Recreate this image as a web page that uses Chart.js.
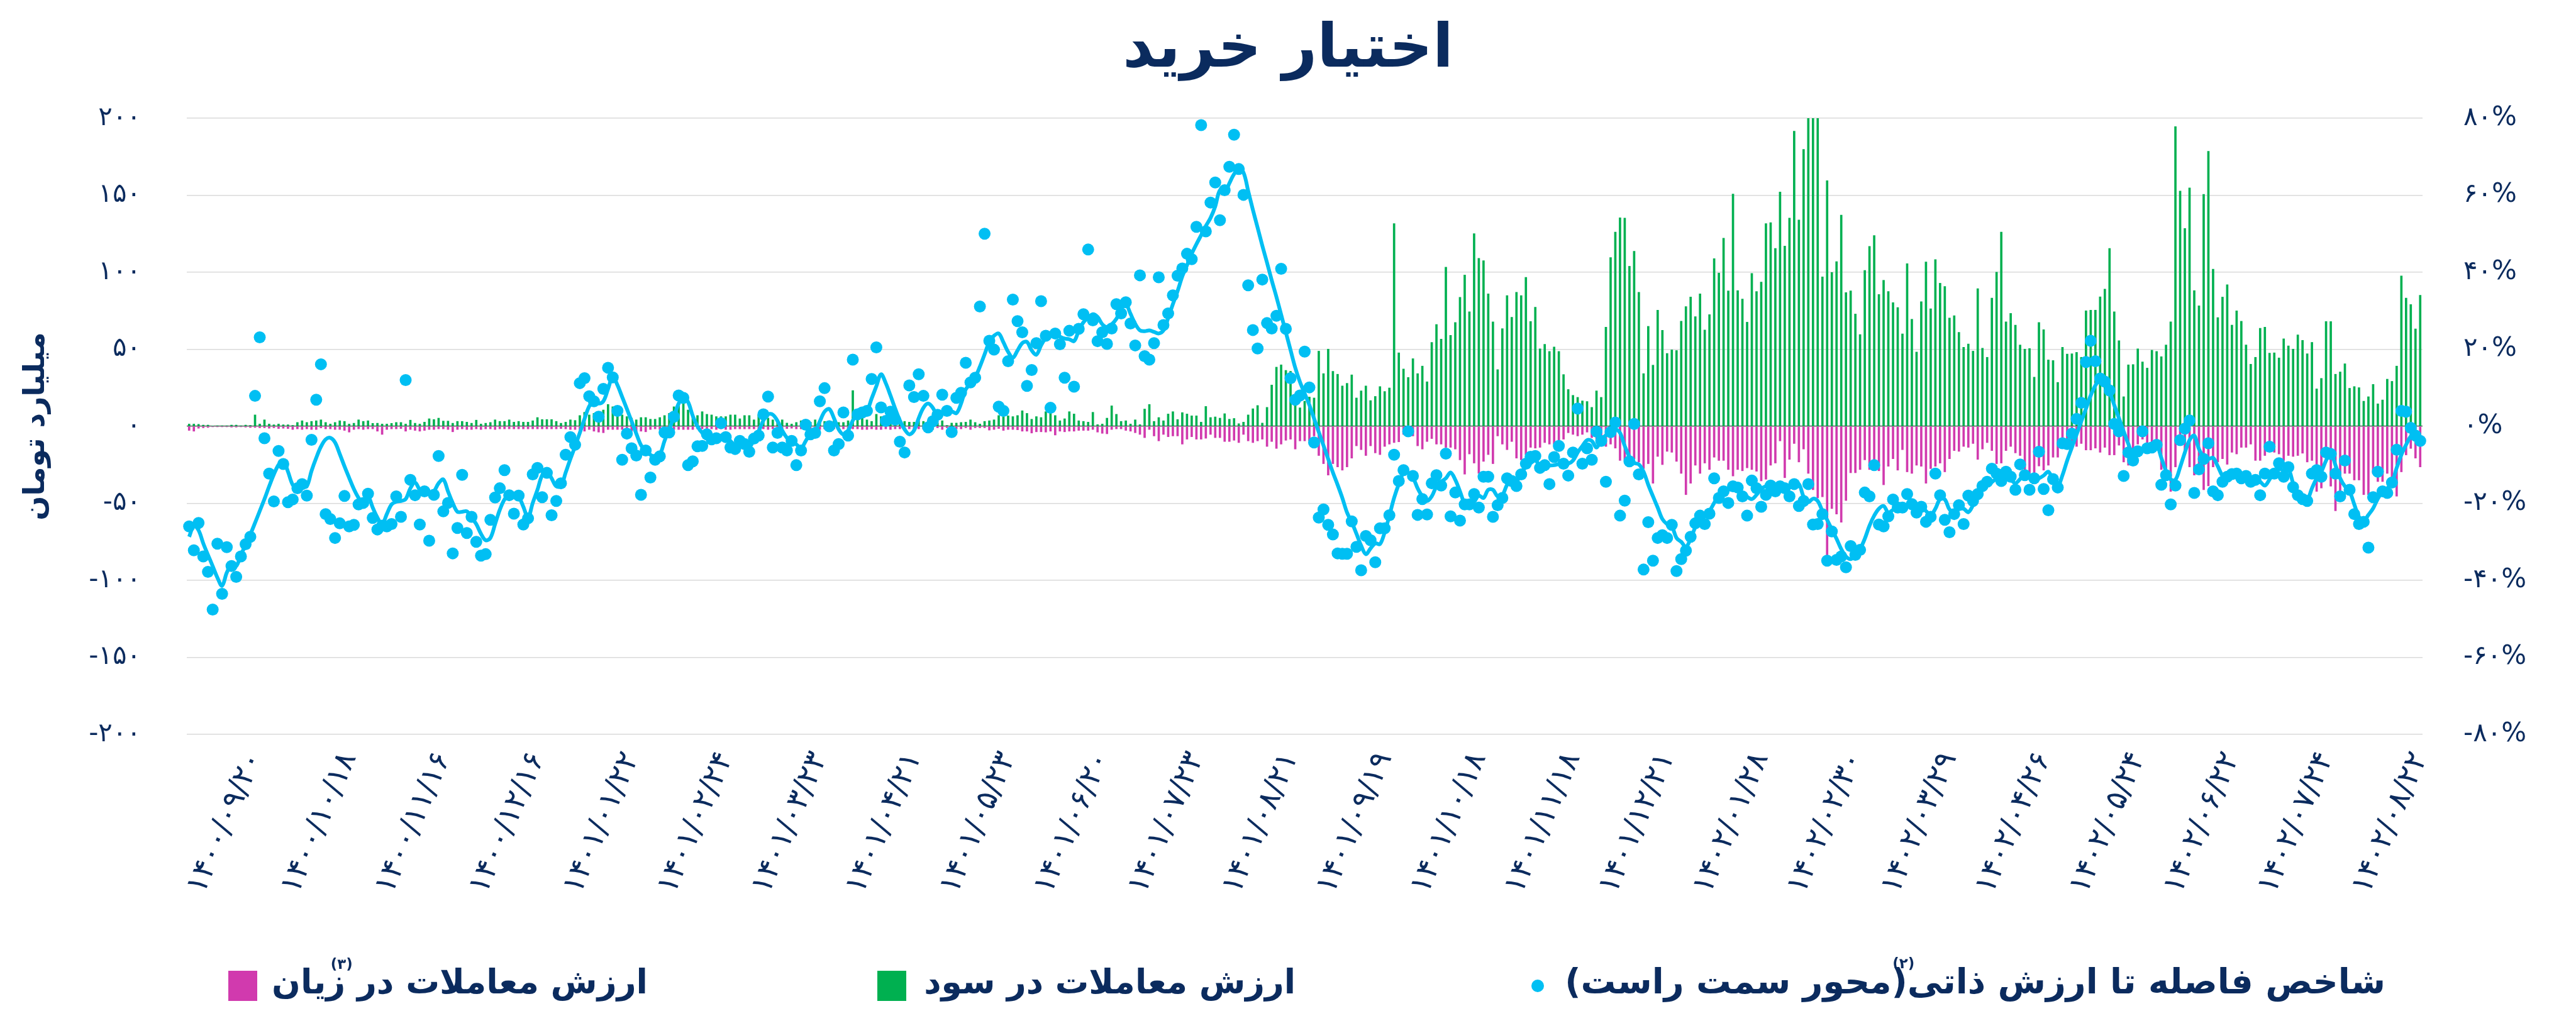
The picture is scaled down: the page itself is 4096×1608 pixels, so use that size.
<!DOCTYPE html>
<html lang="fa">
<head>
<meta charset="utf-8">
<title>اختیار خرید</title>
<script src="https://cdn.jsdelivr.net/npm/chart.js@4.4.0/dist/chart.umd.min.js"></script>
<style>
  html, body { margin: 0; padding: 0; background: #ffffff; }
  #wrap { width: 4096px; height: 1608px; }
  canvas { display: block; }
</style>
</head>
<body>
<div id="wrap"><canvas id="myChart" width="4096" height="1608"></canvas></div>
<script>
// --- Data ---
// x tick labels, one every 20 trading days starting at the 15th point
const dateTicks = [
  '۱۴۰۰/۰۹/۲۰', '۱۴۰۰/۱۰/۱۸', '۱۴۰۰/۱۱/۱۶', '۱۴۰۰/۱۲/۱۶', '۱۴۰۱/۰۱/۲۲', '۱۴۰۱/۰۲/۲۴',
  '۱۴۰۱/۰۳/۲۳', '۱۴۰۱/۰۴/۲۱', '۱۴۰۱/۰۵/۲۳', '۱۴۰۱/۰۶/۲۰', '۱۴۰۱/۰۷/۲۳', '۱۴۰۱/۰۸/۲۱',
  '۱۴۰۱/۰۹/۱۹', '۱۴۰۱/۱۰/۱۸', '۱۴۰۱/۱۱/۱۸', '۱۴۰۱/۱۲/۲۱', '۱۴۰۲/۰۱/۲۸', '۱۴۰۲/۰۲/۳۰',
  '۱۴۰۲/۰۳/۲۹', '۱۴۰۲/۰۴/۲۶', '۱۴۰۲/۰۵/۲۴', '۱۴۰۲/۰۶/۲۲', '۱۴۰۲/۰۷/۲۴', '۱۴۰۲/۰۸/۲۲'
];
const FIRST_TICK = 14;
const TICK_STEP = 20;

const leftTicks = [-200, -150, -100, -50, 0, 50, 100, 150, 200];
const rightTicks = [-80, -60, -40, -20, 0, 20, 40, 60, 80];

// distance to intrinsic value, % (right axis) - daily dots
const gapDots = [
  -26.0, -32.2, -25.1, -33.8, -37.8, -47.6, -30.5, -43.5, -31.4, -36.3,
  -39.1, -33.8, -30.6, -28.7, 7.9, 23.1, -3.1, -12.3, -19.5, -6.4,
  -9.8, -19.7, -19.0, -16.1, -15.0, -18.0, -3.5, 6.9, 16.1, -22.8,
  -24.1, -29.0, -25.2, -18.1, -26.0, -25.6, -20.3, -19.9, -17.5, -23.8,
  -26.8, -25.8, -26.0, -25.4, -18.2, -23.5, 12.0, -13.9, -17.9, -25.5,
  -16.9, -29.7, -17.8, -7.7, -22.1, -19.9, -33.0, -26.4, -12.6, -27.7,
  -23.5, -30.0, -33.6, -33.2, -24.3, -18.5, -16.1, -11.4, -17.9, -22.7,
  -18.0, -25.5, -23.9, -12.5, -10.8, -18.4, -12.1, -23.1, -19.4,
  -14.8, -7.4, -2.8, -4.8, 11.2, 12.5, 7.8, 6.5, 2.5, 9.7,
  15.2, 12.7, 4.0, -8.7, -1.9, -5.7, -7.6, -17.8, -6.3, -13.3,
  -8.7, -7.8, -1.6, -1.6, 2.5, 8.0, 7.4, -10.1, -9.1, -5.2,
  -5.1, -2.1, -3.4, -3.1, 0.8, -2.8, -5.5, -5.9, -3.8, -4.6,
  -6.6, -3.2, -2.4, 3.1, 7.7, -5.5, -1.7, -5.5, -6.3, -3.8,
  -10.1, -6.3, 0.4, -2.1, -1.7, 6.5, 9.9, 0.0, -6.3, -4.6,
  3.6, -2.4, 17.3, 3.1, 3.6, 4.0, 12.3, 20.5, 4.9, 1.4,
  3.8, 1.7, -4.0, -6.8, 10.6, 7.6, 13.5, 7.9, -0.3, 1.3,
  3.0, 8.2, 4.0, -1.5, 7.4, 8.7, 16.5, 11.4, 12.6, 31.1,
  50.0, 22.2, 19.9, 5.1, 4.0, 16.9, 32.9, 27.3, 24.4, 10.5,
  14.6, 21.6, 32.5, 23.5, 4.8, 24.1, 21.3, 12.6, 24.8, 10.3,
  25.3, 29.1, 45.9, 27.5, 22.1, 24.4, 21.4, 25.4, 31.7, 29.3,
  32.2, 26.7, 21.0, 39.2, 18.2, 17.3, 21.6, 38.7, 26.3, 29.3,
  34.0, 39.1, 41.0, 44.8, 43.4, 51.8, 78.2, 50.6, 58.1, 63.3,
  53.5, 61.3, 67.4, 75.7, 66.8, 60.1, 36.6, 25.0, 20.2, 38.1,
  26.8, 25.4, 28.7, 40.9, 25.3, 12.5, 6.9, 8.0, 19.4,
  10.1, -4.2, -23.7, -21.6, -25.6, -28.1, -33.0, -33.1, -33.1, -24.7,
  -31.3, -37.4, -28.5, -29.6, -35.3, -26.5, -26.5, -23.1, -7.4, -14.2,
  -11.4, -1.3, -12.9, -23.0, -18.9, -22.9, -14.8, -12.7, -15.4, -7.1,
  -23.4, -17.2, -24.5, -20.3, -20.3, -17.6, -21.1, -13.1, -13.1, -23.5,
  -20.5, -18.6, -13.5, -14.2, -15.5, -12.5, -9.7, -7.9, -7.7, -10.8,
  -10.1, -15.0, -8.0, -5.1, -9.7, -12.8, -6.8, 4.6, -9.7, -5.7,
  -8.7, -1.4, -3.8, -14.4, -1.5, 1.0, -23.2, -19.3, -9.1, 0.6,
  -12.5, -37.2, -24.9, -34.9, -29.0, -28.3, -29.0, -25.6, -37.6,
  -34.5, -32.3, -28.7, -25.2, -23.2, -25.4, -22.7, -13.5, -18.6, -16.9,
  -19.9, -15.6, -15.9, -18.2, -23.2, -14.1, -16.1, -20.9, -17.8, -15.4,
  -16.9, -15.6, -16.1, -18.2, -15.0, -20.7, -19.4, -15.0, -25.5, -25.4,
  -22.8, -34.9, -27.3, -34.7, -33.8, -36.6, -31.1, -33.4, -32.1, -17.2,
  -18.2, -10.1, -25.5, -26.0, -23.4, -19.0, -21.1, -21.1, -17.6, -20.2,
  -22.4, -20.9, -24.8, -23.5, -12.3, -17.9, -24.3, -27.5, -22.8, -20.5,
  -25.4, -18.0, -19.4, -17.6, -15.5, -14.4, -11.0, -12.3, -14.2, -11.8,
  -13.1, -16.5, -9.9, -12.7, -16.5, -13.5, -6.6, -16.3, -21.8,
  -13.7, -15.9, -4.4, -4.6, -1.9, 1.9, 6.1, 16.7, 22.2, 16.9,
  12.4, 11.6, 9.3, 0.6, -1.3, -12.9, -6.8, -8.9, -6.5, -1.3,
  -5.7, -5.5, -4.8, -15.2, -12.7, -20.3, -15.4, -3.6, -0.6, 1.5,
  -17.3, -11.2, -8.5, -4.4, -16.9, -17.9, -14.4, -13.1, -12.4, -12.3,
  -13.5, -12.9, -14.4, -13.9, -17.9, -12.3, -5.3, -12.3, -9.6, -13.1,
  -10.6, -15.8, -17.9, -18.9, -19.4, -12.3, -11.4, -13.1, -6.8, -7.2,
  -12.3, -18.2, -8.9, -16.5, -22.8, -25.4, -24.8, -31.5, -18.4, -11.8,
  -16.9, -17.3, -14.6, -6.1, 4.0, 3.8, -0.4, -2.4, -3.8
];

// smoothed trend of the same index, % (right axis)
const gapTrend = [
  -28.7, -25.8, -27.0, -30.4, -33.4, -36.3, -39.3, -41.4, -38.0, -35.9,
  -36.3, -33.4, -30.8, -28.1, -25.1, -22.0, -18.9, -15.6, -12.5, -10.0,
  -8.9, -11.8, -15.2, -16.3, -15.8, -15.6, -11.6, -8.2, -5.3, -3.4,
  -3.0, -4.2, -7.2, -10.4, -13.4, -16.3, -18.6, -19.9, -18.2, -21.1,
  -23.7, -25.4, -22.8, -20.3, -19.6, -19.4, -18.9, -16.1, -14.6, -16.5,
  -17.3, -17.5, -16.9, -14.8, -13.8, -16.9, -19.9, -22.2, -22.2, -22.1,
  -23.7, -25.4, -27.9, -29.6, -29.0, -25.4, -21.7, -19.0, -17.8, -17.9,
  -18.3, -20.9, -23.7, -19.9, -16.5, -12.7, -11.6, -13.5, -15.6,
  -15.5, -12.0, -8.5, -5.2, -1.7, 1.9, 5.2, 6.6, 5.9, 6.5,
  9.7, 12.9, 10.7, 7.6, 4.5, 1.3, -1.9, -4.9, -6.5, -7.4,
  -8.0, -7.4, -3.8, -0.8, 2.5, 5.9, 7.6, 6.3, 2.7, 0.0,
  -1.7, -2.5, -2.8, -2.8, -2.4, -2.5, -3.8, -4.9, -4.6, -4.9,
  -5.5, -3.4, -1.3, 1.5, 3.1, 3.0, 1.4, -1.1, -3.0, -4.2,
  -4.7, -5.7, -3.8, -1.9, -1.3, 1.3, 3.8, 4.5, 2.1, -0.8,
  -2.1, -1.1, 1.5, 3.3, 3.8, 4.1, 7.2, 10.4, 13.5, 11.2,
  8.0, 4.6, 1.5, -0.8, -2.1, -1.1, 2.1, 4.8, 5.9, 4.8,
  2.7, 3.6, 4.1, 3.9, 3.4, 5.9, 9.6, 11.0, 12.7, 15.5,
  18.7, 21.9, 23.5, 24.1, 21.8, 19.3, 17.8, 19.7, 21.6, 21.9,
  19.7, 18.6, 21.0, 23.0, 24.1, 24.1, 23.3, 22.8, 22.6, 22.1,
  24.8, 27.0, 28.2, 29.1, 28.4, 26.5, 25.8, 26.5, 27.9, 30.4,
  31.7, 29.2, 26.6, 24.9, 24.7, 24.9, 24.5, 24.1, 24.9, 28.1,
  31.7, 35.1, 38.9, 41.8, 44.8, 47.3, 49.6, 52.0, 54.1, 57.1,
  61.3, 60.6, 63.1, 65.5, 66.7, 65.9, 61.1, 56.2, 51.6, 46.9,
  42.5, 37.9, 33.6, 29.0, 24.4, 19.8, 15.2, 11.5, 8.5,
  5.5, 2.0, -1.5, -5.0, -8.5, -12.0, -15.2, -18.6, -22.4, -24.9,
  -27.9, -31.0, -33.2, -31.7, -30.4, -30.6, -27.5, -23.2, -18.6, -15.0,
  -12.1, -12.1, -13.3, -16.1, -18.2, -19.4, -18.2, -15.6, -14.4, -13.5,
  -12.0, -13.9, -16.9, -20.0, -20.3, -19.6, -18.0, -18.6, -16.5, -16.5,
  -18.2, -17.9, -15.2, -13.9, -14.4, -12.1, -10.6, -9.6, -8.9, -10.1,
  -10.3, -10.2, -10.1, -9.8, -9.6, -9.7, -8.9, -6.8, -5.1, -3.6,
  -3.8, -5.5, -3.6, -2.3, -1.7, -0.8, -1.7, -5.1, -7.9, -9.5,
  -9.9, -11.8, -15.2, -18.2, -21.1, -24.1, -25.4, -26.0, -29.0,
  -30.0, -31.3, -29.2, -26.2, -24.3, -23.0, -22.0, -19.9, -18.0, -17.2,
  -16.5, -16.1, -16.3, -17.3, -18.3, -18.9, -17.8, -16.3, -15.5, -15.3,
  -15.6, -15.6, -15.6, -15.9, -15.5, -15.0, -18.3, -19.7, -18.8, -19.4,
  -22.0, -24.3, -26.8, -29.2, -31.9, -33.8, -34.5, -33.6, -31.9, -29.2,
  -25.8, -23.2, -21.4, -20.7, -22.4, -21.7, -21.2, -21.0, -20.3, -19.9,
  -20.5, -21.0, -22.0, -23.0, -21.4, -18.9, -19.0, -21.6, -22.3, -21.4,
  -21.4, -22.3, -20.5, -18.2, -16.5, -15.3, -14.5, -13.6, -13.1, -13.7,
  -13.9, -14.8, -13.7, -12.4, -13.1, -13.7, -13.5, -12.8, -11.8,
  -13.9, -15.6, -12.7, -8.9, -5.5, -2.1, 1.3, 4.6, 8.0, 10.6,
  12.3, 11.4, 9.0, 5.5, 2.1, -1.3, -4.6, -7.4, -6.8, -5.9,
  -5.5, -5.3, -4.8, -8.2, -11.6, -13.8, -13.9, -10.6, -6.8, -3.6,
  -2.4, -5.9, -7.9, -8.5, -8.2, -10.4, -12.9, -13.9, -13.3, -12.7,
  -12.9, -13.5, -13.9, -13.6, -14.4, -15.4, -13.8, -11.9, -11.1, -11.4,
  -11.1, -14.8, -17.8, -18.3, -19.0, -16.1, -13.5, -11.8, -8.9, -6.9,
  -10.1, -13.5, -15.6, -16.9, -20.3, -23.5, -24.5, -23.0, -21.3, -18.8,
  -17.0, -16.1, -14.6, -10.8, -7.4, -4.8, -2.6, -1.7, -2.8
];

// value of trades in profit, billion toman (left axis)
const profitValue = [
  1.5, 1.5, 1.3, 0.8, 0.8, 0.2, 0.4, 0.4, 0.4, 0.8,
  0.8, 0.4, 0.8, 0.6, 7.4, 1.5, 4.2, 1.5, 1.0, 1.5,
  1.0, 1.0, 0.6, 2.5, 3.6, 2.5, 3.2, 3.6, 4.2, 2.5,
  1.5, 2.5, 3.6, 3.2, 1.5, 2.0, 4.2, 3.2, 3.6, 1.9,
  2.0, 1.5, 1.5, 1.9, 2.5, 2.5, 1.5, 4.0, 2.0, 1.5,
  2.7, 4.9, 4.4, 5.3, 3.4, 3.4, 2.0, 3.2, 3.2, 2.7,
  2.0, 4.0, 1.5, 2.0, 2.5, 4.2, 3.2, 3.2, 4.2, 2.7,
  3.2, 2.7, 2.7, 3.6, 5.7, 4.4, 4.4, 4.4, 3.2,
  2.0, 2.7, 4.2, 3.8, 7.0, 9.1, 7.4, 8.4, 6.3, 10.6,
  14.2, 12.7, 8.4, 7.4, 6.3, 5.3, 4.2, 5.7, 5.7, 4.6,
  4.6, 5.7, 7.0, 8.4, 12.7, 14.8, 14.8, 10.6, 7.4, 7.0,
  9.5, 7.8, 7.4, 6.3, 6.3, 6.3, 7.4, 7.4, 4.9, 7.0,
  7.0, 4.2, 7.4, 5.7, 5.3, 4.2, 4.2, 4.2, 2.1, 1.5,
  2.5, 3.6, 3.2, 2.7, 4.2, 3.2, 3.2, 3.6, 3.6, 2.5,
  2.5, 3.6, 23.2, 6.3, 5.3, 4.2, 3.2, 7.8, 6.3, 4.2,
  4.2, 3.2, 3.2, 3.2, 2.7, 2.7, 3.6, 3.2, 2.7, 3.2,
  2.1, 3.6, 0.6, 2.1, 2.1, 2.5, 2.7, 4.2, 2.5, 1.5,
  3.2, 3.6, 4.2, 7.0, 6.3, 6.8, 6.3, 7.0, 10.1, 8.4,
  4.6, 6.3, 5.7, 9.5, 9.1, 7.0, 3.6, 4.9, 9.5, 8.0,
  3.6, 3.2, 2.7, 9.1, 1.1, 1.5, 5.3, 13.3, 7.8, 3.2,
  3.6, 1.5, 4.2, 1.1, 11.2, 14.2, 3.2, 5.7, 3.6, 8.0,
  9.5, 4.4, 8.9, 8.0, 6.8, 6.8, 2.7, 12.9, 5.7, 6.1,
  5.3, 8.2, 4.6, 5.1, 1.7, 2.7, 7.4, 11.4, 13.5, 2.1,
  12.3, 26.8, 38.4, 39.9, 36.3, 35.7, 13.7, 12.0, 16.3,
  19.0, 18.4, 48.8, 34.2, 50.1, 35.7, 33.8, 26.2, 27.9, 33.4,
  18.4, 23.0, 26.2, 16.7, 19.4, 25.8, 22.6, 24.9, 131.6, 47.7,
  37.2, 31.7, 43.9, 34.2, 39.1, 28.9, 54.5, 66.1, 56.6, 103.3,
  59.1, 67.4, 83.7, 98.2, 74.4, 125.1, 109.0, 107.5, 86.0, 67.8,
  36.8, 63.4, 84.9, 70.8, 87.0, 84.9, 96.7, 68.0, 77.3, 50.3,
  53.2, 48.6, 51.5, 48.6, 33.6, 23.9, 20.1, 18.8, 16.5, 16.1,
  12.3, 23.0, 18.8, 64.4, 109.6, 126.1, 135.4, 135.2, 103.9, 113.6,
  87.0, 34.2, 64.9, 39.7, 75.4, 62.3, 47.3, 49.6, 49.2,
  68.2, 77.7, 83.9, 71.2, 86.0, 62.5, 72.5, 108.8, 99.5, 122.1,
  87.9, 150.8, 88.1, 82.6, 67.6, 99.3, 87.5, 93.6, 131.6, 132.2,
  115.5, 152.1, 117.0, 135.2, 191.6, 133.9, 179.8, 215.0, 230.0, 210.0,
  97.0, 159.5, 99.9, 106.9, 137.1, 86.8, 87.9, 72.9, 59.6, 101.2,
  116.8, 123.8, 85.6, 94.8, 87.5, 80.3, 77.1, 60.0, 105.6, 69.5,
  48.2, 80.9, 106.7, 76.3, 108.2, 92.9, 90.8, 70.3, 71.8, 61.0,
  51.3, 53.4, 48.8, 89.4, 50.7, 44.8, 83.2, 100.1, 126.1, 67.8,
  73.3, 65.7, 52.8, 50.1, 50.5, 31.9, 67.4, 62.7, 43.1,
  42.7, 28.5, 51.3, 46.9, 47.1, 48.0, 44.8, 75.0, 75.4, 75.4,
  84.1, 89.1, 115.5, 74.4, 55.6, 19.2, 39.9, 40.1, 50.3, 41.8,
  37.8, 49.4, 48.6, 45.2, 52.8, 67.8, 194.6, 152.7, 128.4, 154.8,
  88.1, 78.2, 150.6, 178.5, 102.0, 70.6, 83.9, 91.9, 65.7, 75.0,
  68.2, 52.8, 40.3, 44.8, 63.6, 64.4, 47.5, 47.7, 44.4, 56.8,
  52.2, 50.1, 59.4, 55.8, 47.1, 54.5, 24.3, 31.1, 68.0, 68.0,
  33.8, 35.3, 40.6, 24.7, 25.8, 25.1, 16.3, 19.2, 27.2, 14.6,
  17.1, 30.6, 29.2, 39.1, 97.6, 83.2, 79.0, 63.2, 85.1
];

// value of trades in loss, billion toman (left axis)
const lossValue = [
  -2.7, -3.2, -1.3, -1.0, -0.8, -0.4, -0.4, -0.4, -0.4, -0.6,
  -0.6, -0.4, -0.6, -0.8, -0.8, -1.0, -1.0, -1.3, -1.0, -1.5,
  -1.3, -1.5, -2.1, -1.7, -2.1, -1.7, -2.1, -2.1, -1.1, -1.7,
  -1.7, -2.1, -2.1, -2.7, -3.8, -2.1, -1.7, -2.1, -1.7, -1.7,
  -3.2, -5.3, -2.1, -1.7, -1.7, -1.5, -3.2, -2.1, -2.7, -3.2,
  -2.7, -2.1, -2.1, -1.7, -1.7, -2.1, -3.6, -2.1, -1.7, -2.1,
  -2.1, -1.7, -2.1, -1.7, -1.7, -2.1, -1.7, -1.7, -1.7, -1.7,
  -1.7, -1.7, -1.7, -1.7, -1.7, -1.7, -1.7, -1.7, -1.7,
  -1.5, -1.7, -2.1, -2.1, -2.1, -3.2, -2.1, -3.2, -3.8, -4.2,
  -2.1, -2.1, -2.1, -2.1, -3.2, -3.2, -3.6, -3.2, -3.6, -2.1,
  -1.7, -2.1, -3.2, -3.2, -2.1, -2.1, -2.1, -2.1, -2.1, -1.7,
  -1.7, -2.1, -1.7, -2.1, -1.7, -2.1, -2.1, -1.7, -1.7, -1.7,
  -1.7, -1.7, -2.1, -1.7, -2.1, -1.7, -1.7, -1.7, -1.5, -1.3,
  -1.7, -1.7, -1.7, -1.7, -1.7, -2.1, -1.7, -1.7, -1.7, -1.7,
  -1.7, -1.7, -1.7, -1.7, -2.1, -2.1, -1.7, -2.1, -2.1, -1.7,
  -2.1, -1.7, -1.7, -1.7, -1.7, -1.7, -1.7, -1.7, -1.7, -2.1,
  -1.0, -2.1, -1.0, -1.5, -1.7, -1.7, -1.0, -2.1, -1.0, -1.0,
  -1.0, -2.5, -2.1, -1.5, -2.7, -2.1, -2.1, -2.3, -3.2, -3.2,
  -4.4, -3.6, -3.6, -3.8, -3.2, -5.7, -3.2, -3.6, -3.2, -3.2,
  -2.7, -2.7, -2.7, -2.1, -3.8, -4.6, -4.9, -2.1, -1.7, -1.7,
  -2.7, -3.2, -4.2, -5.3, -7.4, -2.1, -6.3, -9.5, -5.3, -6.8,
  -6.3, -6.3, -11.6, -8.4, -6.8, -8.4, -8.4, -7.8, -5.3, -7.4,
  -7.4, -9.9, -9.9, -9.1, -10.6, -5.3, -9.5, -10.6, -9.5, -8.4,
  -13.1, -9.9, -14.4, -11.6, -9.1, -8.4, -14.8, -9.5, -9.5,
  -9.5, -6.3, -19.0, -24.3, -31.7, -24.3, -26.4, -28.5, -26.4, -20.7,
  -12.7, -15.2, -19.0, -12.7, -17.3, -18.4, -13.1, -11.6, -10.6, -10.1,
  -5.3, -3.6, -6.3, -12.7, -14.8, -9.9, -8.0, -11.6, -11.6, -13.7,
  -13.7, -14.8, -21.8, -31.1, -18.0, -23.9, -30.6, -22.8, -18.4, -24.3,
  -6.3, -11.6, -15.2, -9.9, -20.7, -21.8, -18.4, -13.7, -14.2, -13.7,
  -10.6, -11.6, -11.6, -9.1, -8.4, -4.2, -5.3, -6.3, -5.3, -3.8,
  -7.4, -8.0, -8.4, -13.1, -11.6, -14.2, -22.2, -22.2, -25.8, -21.1,
  -23.2, -27.5, -24.3, -37.0, -19.6, -24.9, -16.3, -16.9, -22.8,
  -30.6, -44.4, -37.0, -25.3, -30.6, -23.9, -28.1, -20.1, -22.2, -22.2,
  -28.1, -32.3, -28.1, -28.9, -27.0, -28.1, -29.2, -35.5, -34.4, -25.3,
  -23.9, -9.5, -33.4, -21.5, -11.2, -23.2, -14.8, -30.6, -41.2, -46.5,
  -45.8, -84.5, -53.4, -57.0, -62.3, -48.2, -30.2, -30.2, -28.1, -21.8,
  -28.1, -24.3, -28.9, -38.0, -26.0, -21.1, -28.5, -15.2, -29.6, -30.6,
  -25.3, -26.0, -37.0, -27.5, -26.0, -23.9, -29.6, -21.1, -15.8, -16.3,
  -13.1, -13.7, -11.2, -21.5, -14.8, -10.6, -15.8, -24.3, -23.9, -15.8,
  -13.1, -17.3, -19.0, -29.6, -30.6, -31.7, -25.8, -28.5, -25.3,
  -20.1, -20.1, -7.4, -14.8, -13.7, -13.1, -11.2, -15.4, -15.4, -14.2,
  -16.9, -13.7, -18.6, -18.6, -12.3, -23.2, -25.3, -19.6, -11.6, -8.4,
  -12.7, -13.7, -13.7, -28.1, -31.7, -42.3, -26.4, -11.6, -16.9, -26.4,
  -31.7, -30.6, -41.2, -38.7, -26.4, -23.2, -21.1, -24.7, -16.9, -18.0,
  -13.7, -13.7, -11.6, -22.2, -22.2, -19.0, -15.8, -16.9, -18.0, -22.2,
  -19.0, -19.6, -19.0, -17.5, -23.2, -22.2, -42.3, -40.1, -22.2, -38.9,
  -54.9, -47.5, -30.6, -30.6, -34.9, -34.9, -44.4, -44.4, -30.6, -35.9,
  -35.9, -30.6, -38.0, -45.4, -29.6, -18.6, -14.4, -20.7, -26.4
];

// --- Styling ---
const FONT = "'DejaVu Sans', 'Noto Sans', sans-serif";
const NAVY = '#0b2b5e';
const CYAN = '#00bff3';
const GREEN = '#00b050';
const MAGENTA = '#d13aae';
const FA_DIGITS = '۰۱۲۳۴۵۶۷۸۹';

function toFa(s) {
    return String(s).replace(/[0-9]/g, d => FA_DIGITS[d]);
}

// category labels: only every 20th point carries a date
const categories = gapDots.map((_, i) => {
    const k = (i - FIRST_TICK) / TICK_STEP;
    return (Number.isInteger(k) && k >= 0 && k < dateTicks.length) ? dateTicks[k] : '';
});

// legend drawn at the bottom, laid out like the original (markers left of text)
const legendLayout = [
    { dataset: 3, head: 'ارزش معاملات در ', sup: '(۳)', marker: 'box', mx: 386, left: 432, right: 1030 },
    { dataset: 2, marker: 'box', mx: 1418, left: 1469, right: 2060 },
    { dataset: 0, head: 'شاخص فاصله تا ارزش ذاتی', sup: '(۲)', marker: 'dot', mx: 2445, left: 2488, right: 3793 }
];

function fitSize(ctx, text, width) {
    ctx.font = `bold 100px ${FONT}`;
    const w = ctx.measureText(text).width;
    return Math.min(70, 100 * width / w);
}

const bottomLegend = {
    id: 'bottomLegend',
    afterDraw(chart) {
        const ctx = chart.ctx;
        const baseY = 1580;
        const markY = 1568;
        ctx.save();
        legendLayout.forEach(item => {
            const ds = chart.data.datasets[item.dataset];
            const color = ds.legendColor;
            // marker
            ctx.fillStyle = color;
            if (item.marker === 'box') {
                ctx.fillRect(item.mx - 23, markY - 24, 46, 48);
            } else {
                ctx.beginPath();
                ctx.arc(item.mx, markY, 10, 0, Math.PI * 2);
                ctx.fill();
            }
            // text
            const size = fitSize(ctx, ds.label, item.right - item.left);
            ctx.font = `bold ${size}px ${FONT}`;
            ctx.direction = 'rtl';
            ctx.textAlign = 'right';
            ctx.textBaseline = 'alphabetic';
            ctx.fillStyle = NAVY;
            ctx.fillText(ds.label, item.right, baseY);
            if (item.sup) {
                const hw = ctx.measureText(item.head).width;
                ctx.font = `bold ${Math.round(size * 0.42)}px ${FONT}`;
                ctx.textAlign = 'center';
                ctx.fillText(item.sup, item.right - hw - 6, baseY - size * 0.72);
            }
        });
        ctx.restore();
    }
};

const whiteBackground = {
    id: 'whiteBackground',
    beforeDraw(chart) {
        const ctx = chart.ctx;
        ctx.save();
        ctx.fillStyle = '#ffffff';
        ctx.fillRect(0, 0, chart.width, chart.height);
        ctx.restore();
    }
};

const chartCanvas = document.getElementById('myChart');

const myChart = new Chart(chartCanvas, {
    type: 'bar',
    data: {
        labels: categories,
        datasets: [
            {
                type: 'line',
                label: 'شاخص فاصله تا ارزش ذاتی(محور سمت راست)',
                legendColor: CYAN,
                data: gapDots,
                yAxisID: 'yR',
                showLine: false,
                pointRadius: 9.5,
                pointHoverRadius: 9.5,
                pointBackgroundColor: CYAN,
                pointBorderWidth: 0,
                order: 0
            },
            {
                type: 'line',
                label: 'روند',
                legendColor: CYAN,
                data: gapTrend,
                yAxisID: 'yR',
                borderColor: CYAN,
                borderWidth: 6,
                pointRadius: 0,
                tension: 0.35,
                order: 1
            },
            {
                type: 'bar',
                label: 'ارزش معاملات در سود',
                legendColor: GREEN,
                data: profitValue,
                yAxisID: 'y',
                backgroundColor: GREEN,
                barThickness: 3,
                grouped: false,
                order: 2
            },
            {
                type: 'bar',
                label: 'ارزش معاملات در زیان',
                legendColor: MAGENTA,
                data: lossValue,
                yAxisID: 'y',
                backgroundColor: MAGENTA,
                barThickness: 3,
                grouped: false,
                order: 3
            }
        ]
    },
    options: {
        responsive: false,
        devicePixelRatio: 1,
        animation: false,
        events: [],
        layout: { padding: 0 },
        plugins: {
            legend: { display: false },
            tooltip: { enabled: false },
            title: {
                display: true,
                text: 'اختیار خرید',
                color: NAVY,
                font: { family: FONT, size: 96, weight: 'bold', lineHeight: 1.2 },
                padding: { top: 23.4, bottom: 49.4 }
            }
        },
        scales: {
            x: {
                type: 'category',
                offset: true,
                grid: { display: false, drawTicks: false },
                border: { display: false },
                ticks: {
                    autoSkip: false,
                    minRotation: 67,
                    maxRotation: 67,
                    padding: 20,
                    color: NAVY,
                    font: { family: FONT, size: 48 }
                },
                afterFit: s => { s.height = 440; }
            },
            y: {
                position: 'left',
                min: -200,
                max: 200,
                afterBuildTicks: s => { s.ticks = leftTicks.map(v => ({ value: v })); },
                grid: {
                    drawTicks: false,
                    color: c => (c.tick && c.tick.value === 0) ? '#3c3c3c' : '#dadada',
                    lineWidth: c => (c.tick && c.tick.value === 0) ? 1.3 : 1.6
                },
                border: { display: false },
                ticks: {
                    padding: 73,
                    color: NAVY,
                    font: { family: FONT, size: 42 },
                    callback: v => toFa(v)
                },
                title: {
                    display: true,
                    text: 'میلیارد تومان',
                    color: NAVY,
                    font: { family: FONT, size: 46, weight: 'bold' },
                    padding: { top: 30, bottom: 0 }
                },
                afterFit: s => { s.width = 297; }
            },
            yR: {
                position: 'right',
                min: -80,
                max: 80,
                afterBuildTicks: s => { s.ticks = rightTicks.map(v => ({ value: v })); },
                grid: { display: false, drawTicks: false },
                border: { display: false },
                ticks: {
                    padding: 65,
                    color: NAVY,
                    font: { family: FONT, size: 42 },
                    callback: v => toFa(v) + '%'
                },
                afterFit: s => { s.width = 244; }
            }
        }
    },
    plugins: [whiteBackground, bottomLegend]
});
</script>
</body>
</html>
